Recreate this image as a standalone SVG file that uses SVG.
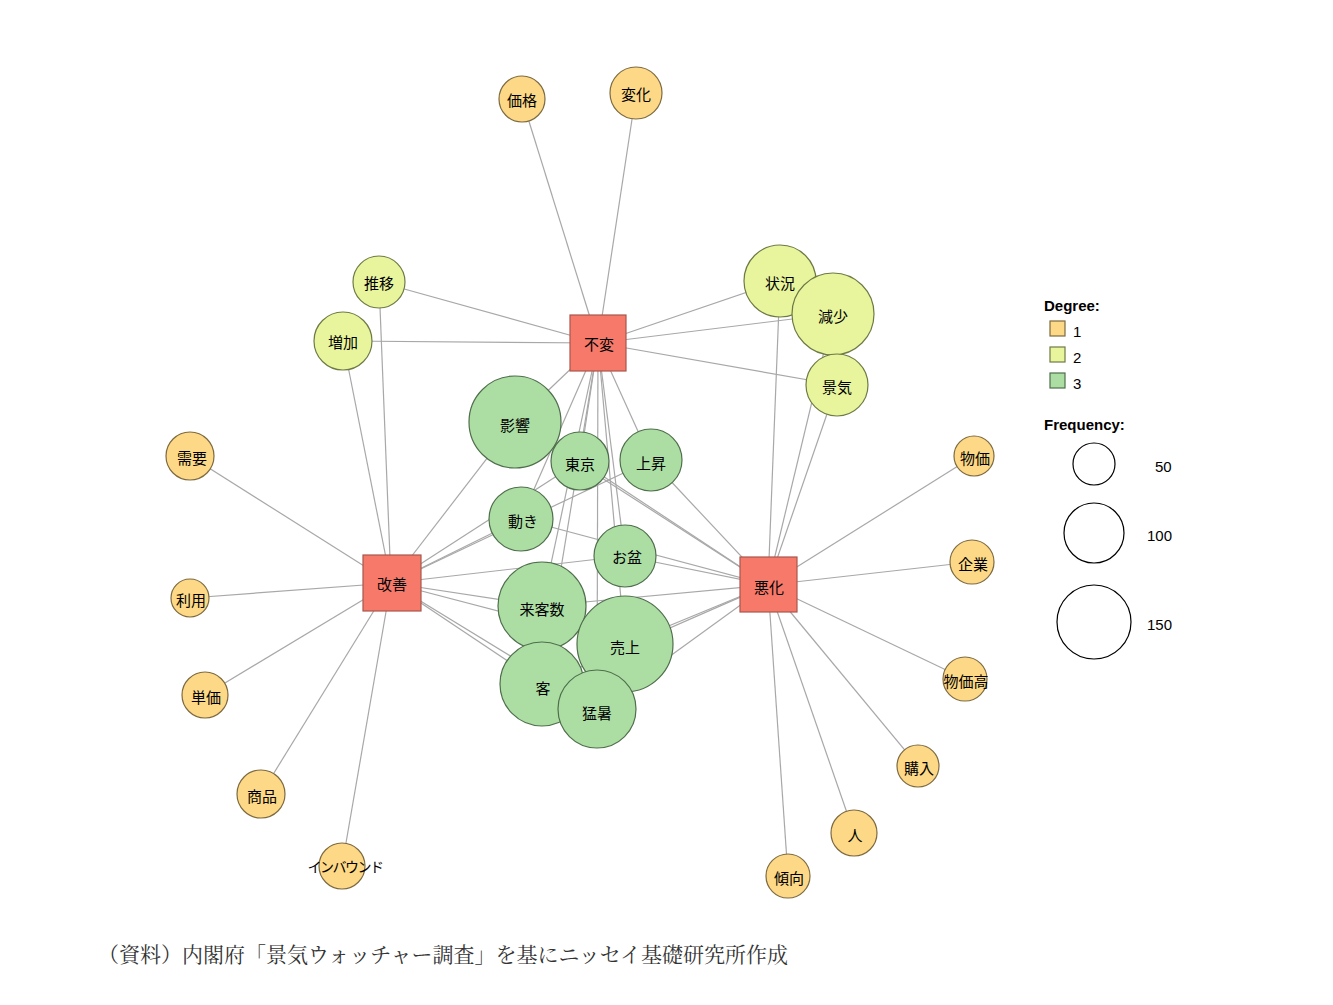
<svg xmlns="http://www.w3.org/2000/svg" width="1333" height="1005" viewBox="0 0 1333 1005">
<style>
.e line{stroke:#a8a8a8;stroke-width:1.2}
.d1{fill:#fdd886;stroke:#7d6a40;stroke-width:1.2}
.d2{fill:#e8f59c;stroke:#6e7a45;stroke-width:1.2}
.d3{fill:#acdea4;stroke:#4f6e4c;stroke-width:1.2}
.sq{fill:#f6796a;stroke:#a8574c;stroke-width:1.2}
text{font-family:"Noto Sans CJK JP","Liberation Sans",sans-serif;font-size:15px;fill:#000;text-anchor:middle;dominant-baseline:central}
.lg{font-family:"Liberation Sans",Arial,sans-serif;text-anchor:start}
.lc{fill:none;stroke:#000;stroke-width:1.2}
</style>
<rect width="1333" height="1005" fill="#fff"/>
<g class="e" id="edges">
<line x1="598" y1="343" x2="522" y2="99"/><line x1="598" y1="343" x2="636" y2="93"/>
<line x1="598" y1="343" x2="379" y2="282"/><line x1="598" y1="343" x2="343" y2="341"/>
<line x1="598" y1="343" x2="780" y2="281"/><line x1="598" y1="343" x2="833" y2="314"/><line x1="598" y1="343" x2="837" y2="385"/>
<line x1="391" y1="583" x2="379" y2="282"/><line x1="391" y1="583" x2="343" y2="341"/>
<line x1="768" y1="585" x2="780" y2="281"/><line x1="768" y1="585" x2="833" y2="314"/><line x1="768" y1="585" x2="837" y2="385"/>
<line x1="391" y1="583" x2="190" y2="456"/><line x1="391" y1="583" x2="190" y2="598"/><line x1="391" y1="583" x2="205" y2="695"/><line x1="391" y1="583" x2="261" y2="794"/><line x1="391" y1="583" x2="342" y2="866"/>
<line x1="768" y1="585" x2="974" y2="456"/><line x1="768" y1="585" x2="972" y2="562"/><line x1="768" y1="585" x2="965" y2="679"/><line x1="768" y1="585" x2="918" y2="766"/><line x1="768" y1="585" x2="854" y2="833"/><line x1="768" y1="585" x2="788" y2="876"/>
<line x1="598" y1="343" x2="515" y2="422"/><line x1="391" y1="583" x2="515" y2="422"/><line x1="768" y1="585" x2="515" y2="422"/>
<line x1="598" y1="343" x2="580" y2="461"/><line x1="391" y1="583" x2="580" y2="461"/><line x1="768" y1="585" x2="580" y2="461"/>
<line x1="598" y1="343" x2="651" y2="460"/><line x1="391" y1="583" x2="651" y2="460"/><line x1="768" y1="585" x2="651" y2="460"/>
<line x1="598" y1="343" x2="521" y2="519"/><line x1="391" y1="583" x2="521" y2="519"/><line x1="768" y1="585" x2="521" y2="519"/>
<line x1="598" y1="343" x2="625" y2="556"/><line x1="391" y1="583" x2="625" y2="556"/><line x1="768" y1="585" x2="625" y2="556"/>
<line x1="598" y1="343" x2="542" y2="606"/><line x1="391" y1="583" x2="542" y2="606"/><line x1="768" y1="585" x2="542" y2="606"/>
<line x1="598" y1="343" x2="625" y2="644"/><line x1="391" y1="583" x2="625" y2="644"/><line x1="768" y1="585" x2="625" y2="644"/>
<line x1="598" y1="343" x2="542" y2="684"/><line x1="391" y1="583" x2="542" y2="684"/><line x1="768" y1="585" x2="542" y2="684"/>
<line x1="598" y1="343" x2="597" y2="709"/><line x1="391" y1="583" x2="597" y2="709"/><line x1="768" y1="585" x2="597" y2="709"/>
</g>
<g id="n_kakaku"><circle class="d1" cx="522" cy="99" r="23"/><text x="522" y="99">価格</text></g>
<g id="n_henka"><circle class="d1" cx="636" cy="93" r="26"/><text x="636" y="93">変化</text></g>
<g id="n_suii"><circle class="d2" cx="379" cy="282" r="26"/><text x="379" y="282">推移</text></g>
<g id="n_zouka"><circle class="d2" cx="343" cy="341" r="29"/><text x="343" y="341">増加</text></g>
<g id="n_joukyou"><circle class="d2" cx="780" cy="281" r="36"/><text x="780" y="282">状況</text></g>
<g id="n_genshou"><circle class="d2" cx="833" cy="314" r="41"/><text x="833" y="315">減少</text></g>
<g id="n_keiki"><circle class="d2" cx="837" cy="385" r="31"/><text x="837" y="386">景気</text></g>
<g id="n_eikyou"><circle class="d3" cx="515" cy="422" r="46"/><text x="515" y="424">影響</text></g>
<g id="n_tokyo"><circle class="d3" cx="580" cy="461" r="29"/><text x="580" y="463">東京</text></g>
<g id="n_joushou"><circle class="d3" cx="651" cy="460" r="31"/><text x="651" y="462">上昇</text></g>
<g id="n_ugoki"><circle class="d3" cx="521" cy="519" r="32"/><text x="523" y="520">動き</text></g>
<g id="n_obon"><circle class="d3" cx="625" cy="556" r="31"/><text x="627" y="556">お盆</text></g>
<g id="n_raikyaku"><circle class="d3" cx="542" cy="606" r="44"/><text x="542" y="608">来客数</text></g>
<g id="n_uriage"><circle class="d3" cx="625" cy="644" r="48"/><text x="625" y="646">売上</text></g>
<g id="n_kyaku"><circle class="d3" cx="542" cy="684" r="42"/><text x="543" y="687">客</text></g>
<g id="n_mousho"><circle class="d3" cx="597" cy="709" r="39"/><text x="597" y="712">猛暑</text></g>
<g id="n_juyou"><circle class="d1" cx="190" cy="456" r="24"/><text x="192" y="457">需要</text></g>
<g id="n_riyou"><circle class="d1" cx="190" cy="598" r="19"/><text x="191" y="599">利用</text></g>
<g id="n_tanka"><circle class="d1" cx="205" cy="695" r="23"/><text x="206" y="696">単価</text></g>
<g id="n_shouhin"><circle class="d1" cx="261" cy="794" r="24"/><text x="262" y="795">商品</text></g>
<g id="n_inbound"><circle class="d1" cx="342" cy="866" r="23"/><text x="345" y="866" style="font-size:14px;letter-spacing:-1.5px">インバウンド</text></g>
<g id="n_bukka"><circle class="d1" cx="974" cy="456" r="20"/><text x="975" y="457">物価</text></g>
<g id="n_kigyou"><circle class="d1" cx="972" cy="562" r="22"/><text x="973" y="563">企業</text></g>
<g id="n_bukkadaka"><circle class="d1" cx="965" cy="679" r="22"/><text x="966" y="680">物価高</text></g>
<g id="n_kounyu"><circle class="d1" cx="918" cy="766" r="21"/><text x="919" y="767">購入</text></g>
<g id="n_hito"><circle class="d1" cx="854" cy="833" r="23"/><text x="855" y="834">人</text></g>
<g id="n_keikou"><circle class="d1" cx="788" cy="876" r="22"/><text x="789" y="877">傾向</text></g>
<g id="s_fuhen"><rect class="sq" x="570" y="315" width="56" height="56"/><text x="599" y="343">不変</text></g>
<g id="s_kaizen"><rect class="sq" x="363" y="555" width="58" height="56"/><text x="392" y="583">改善</text></g>
<g id="s_akka"><rect class="sq" x="740" y="557" width="57" height="55"/><text x="769" y="586">悪化</text></g>
<g id="legend">
<text class="lg" x="1044" y="305" style="font-weight:bold;font-size:15px">Degree:</text>
<rect class="d1" x="1050" y="321" width="15" height="15"/><text class="lg" x="1073" y="331">1</text>
<rect class="d2" x="1050" y="347" width="15" height="15"/><text class="lg" x="1073" y="357">2</text>
<rect class="d3" x="1050" y="373" width="15" height="15"/><text class="lg" x="1073" y="383">3</text>
<text class="lg" x="1044" y="424" style="font-weight:bold;font-size:15px">Frequency:</text>
<circle class="lc" cx="1094" cy="464" r="21"/><text class="lg" x="1155" y="466">50</text>
<circle class="lc" cx="1094" cy="533" r="30"/><text class="lg" x="1147" y="535">100</text>
<circle class="lc" cx="1094" cy="622" r="37"/><text class="lg" x="1147" y="624">150</text>
</g>
<text x="98" y="953" style="text-anchor:start;font-family:'Noto Serif CJK JP','Noto Sans CJK JP',serif;font-size:21px;fill:#333">（資料）内閣府「景気ウォッチャー調査」を基にニッセイ基礎研究所作成</text>
</svg>
